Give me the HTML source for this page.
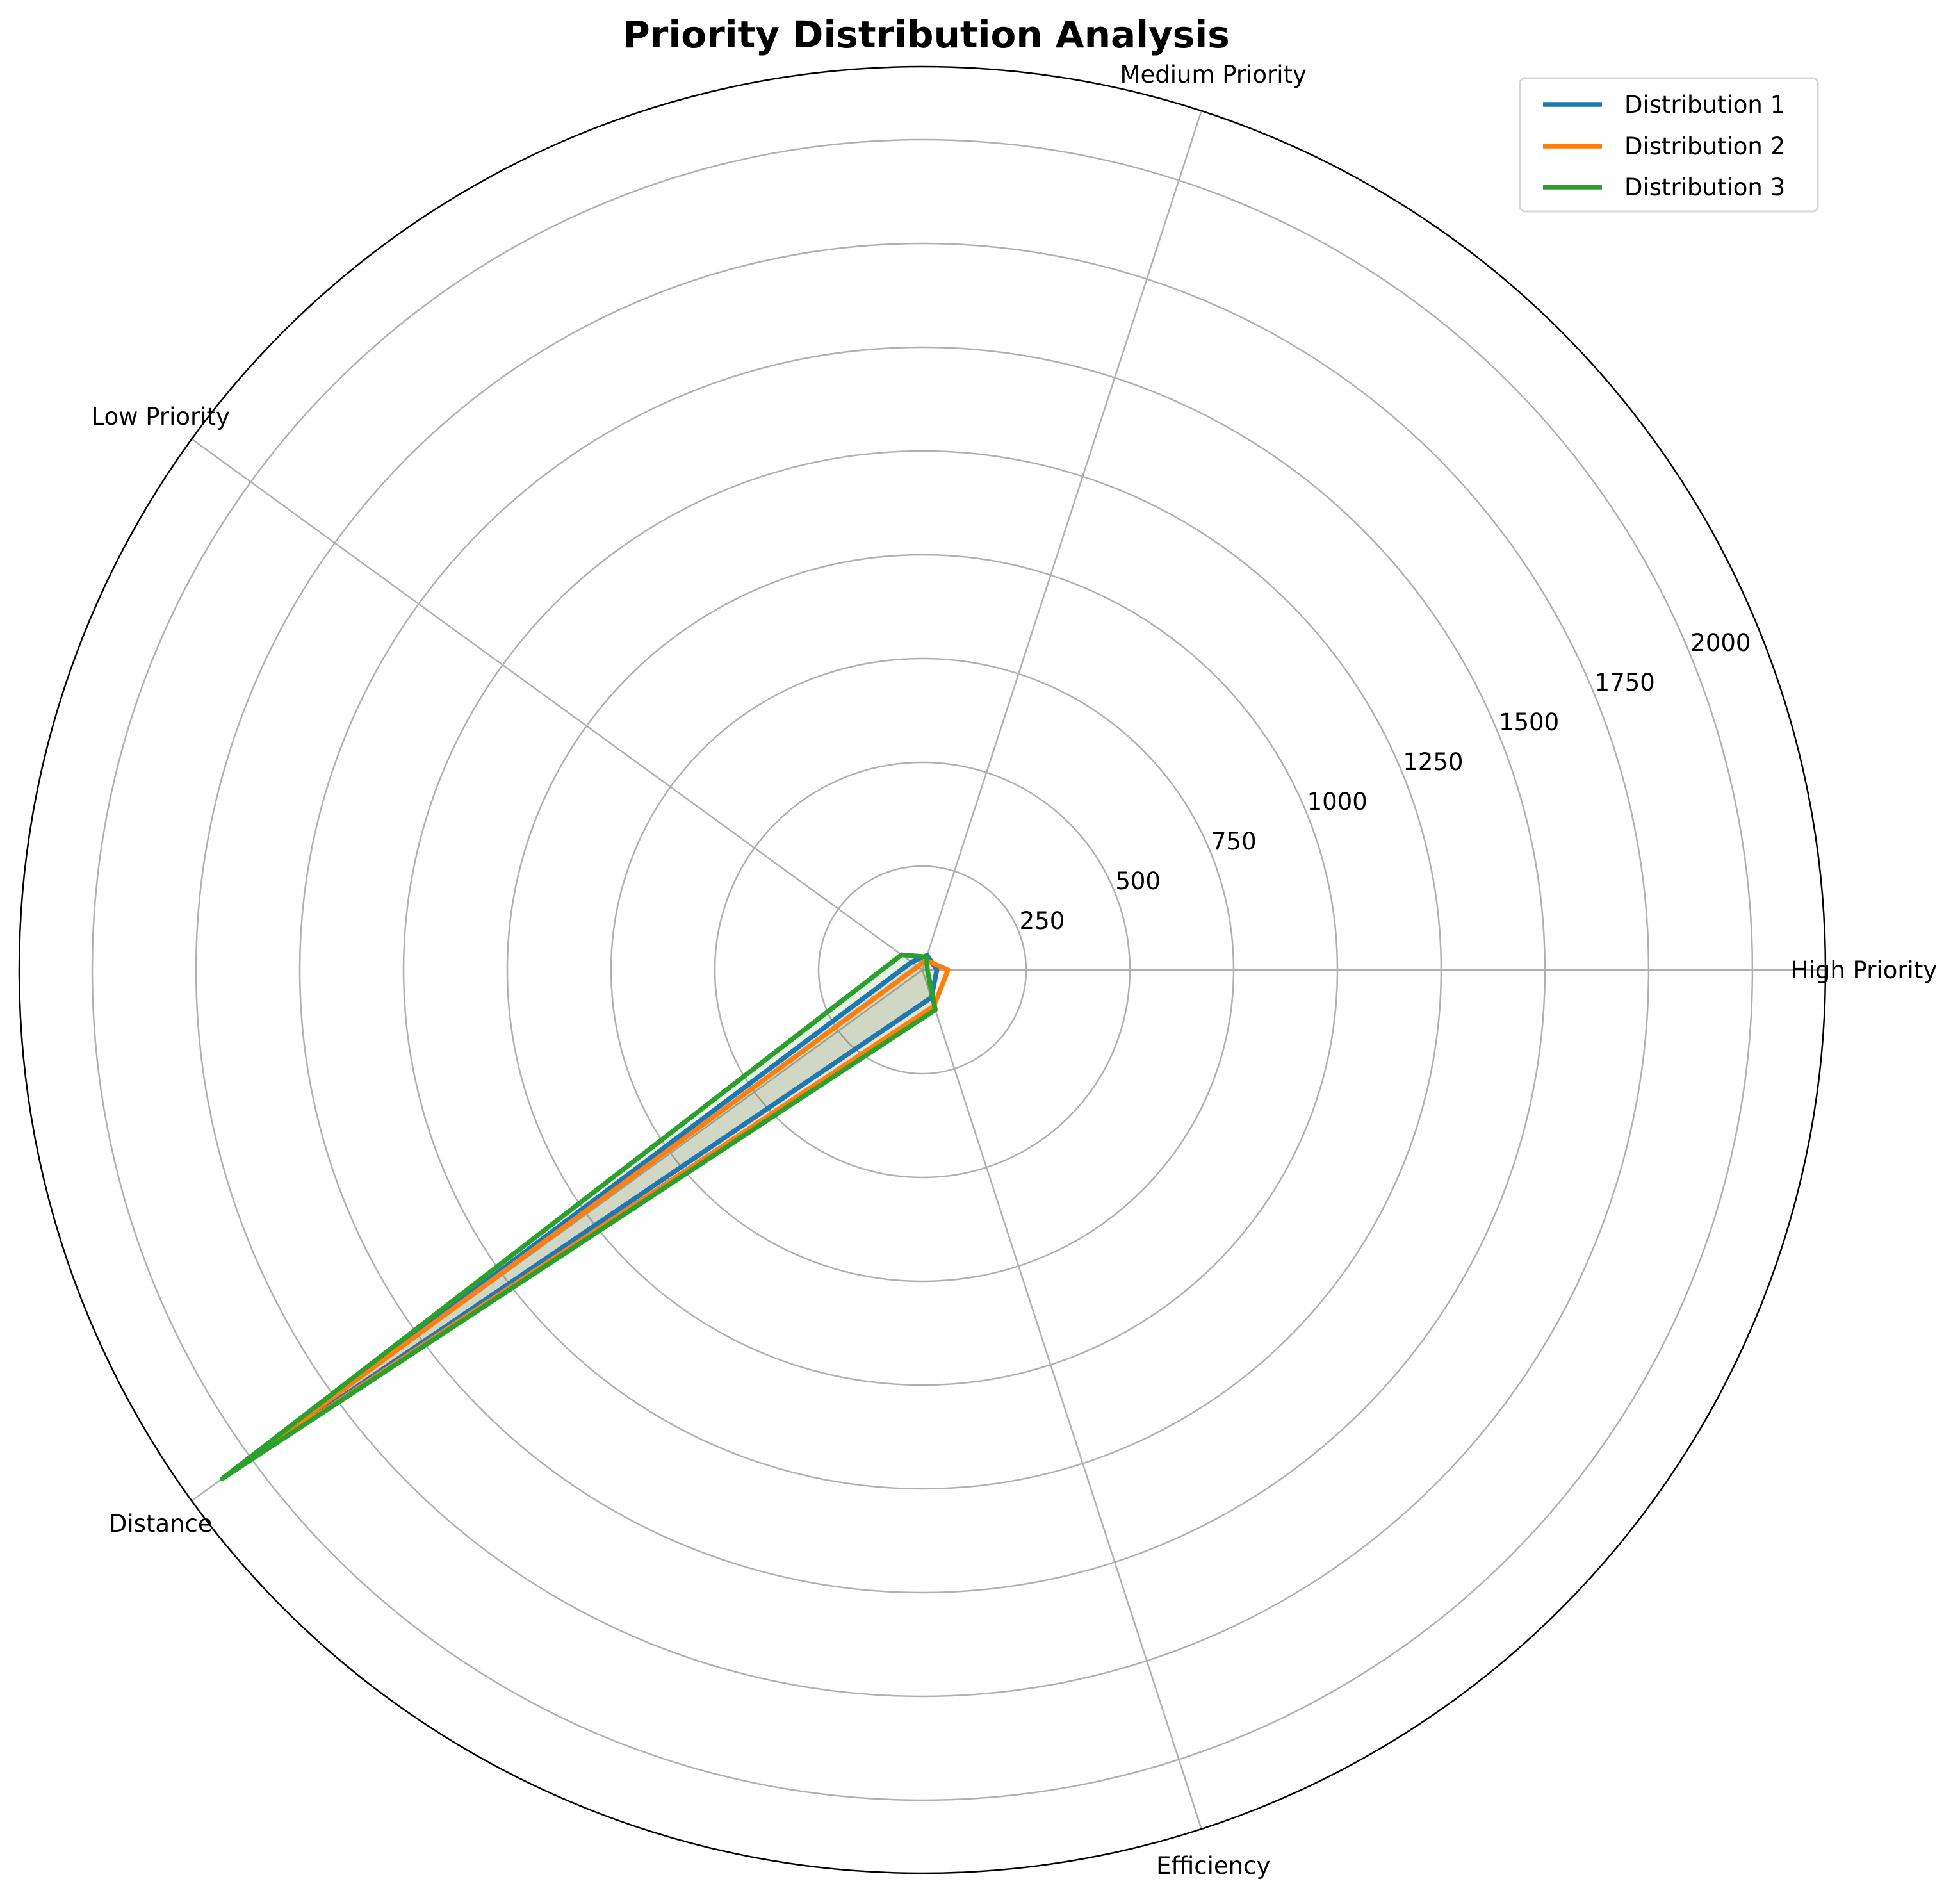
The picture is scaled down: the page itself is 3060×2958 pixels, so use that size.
<!DOCTYPE html>
<html><head><meta charset="utf-8"><title>Priority Distribution Analysis</title>
<style>
html,body{margin:0;padding:0;background:#fff;}
svg{display:block;font-family:"DejaVu Sans","Liberation Sans",sans-serif;}
</style></head>
<body>
<svg id="chart" width="3060" height="2958" viewBox="0 0 3060 2958" xmlns="http://www.w3.org/2000/svg">
<rect width="3060" height="2958" fill="#fff"/>
<text x="1446" y="74" text-anchor="middle" font-size="58" font-weight="bold">Priority Distribution Analysis</text>
<g id="grid"></g>
<g id="series"></g>
<g id="labels"></g>
<g>
<rect x="2373" y="122" width="465" height="208" rx="8" fill="#fff" stroke="#d6d6d6" stroke-width="3"/>
<g id="legend"></g>
</g>
</svg>
<script>
const categories = ["High Priority","Medium Priority","Low Priority","Distance","Efficiency"];
const seriesNames = ["Distribution 1","Distribution 2","Distribution 3"];
const dist1 = [35, 37, 32, 2040, 70];
const dist2 = [62, 25, 14, 2060, 91];
const dist3 = [12, 33, 62, 2085, 101];
const ticks = [250,500,750,1000,1250,1500,1750,2000];
const colors = ["#1f77b4","#ff7f0e","#2ca02c"];
const allSeries = [dist1, dist2, dist3];

const NS = "http://www.w3.org/2000/svg";
const cx = 1440, cy = 1514, R = 1410, rmax = 2176;
function rs(v){ return v / rmax * R; }
function ang(i){ return i * 2 * Math.PI / categories.length; }
function pt(i, v){ const a = ang(i), r = rs(v); return [cx + r*Math.cos(a), cy - r*Math.sin(a)]; }
function mk(tag, attrs, parent){ const e = document.createElementNS(NS, tag); for (const k in attrs) e.setAttribute(k, attrs[k]); parent.appendChild(e); return e; }

const grid = document.getElementById("grid");
ticks.forEach(t => {
  const c = mk("circle", {cx:cx, cy:cy, r:rs(t), fill:"none", stroke:"#b0b0b0", "stroke-width":2.5}, grid);
  
  
});
categories.forEach((c, i) => {
  const [x, y] = pt(i, rmax);
  const l = mk("line", {x1:cx, y1:cy, x2:x, y2:y, stroke:"#b0b0b0", "stroke-width":2.5}, grid);
  
  
});
const outer = mk("circle", {cx:cx, cy:cy, r:R, fill:"none", stroke:"#000", "stroke-width":2.5}, grid);



const labels = document.getElementById("labels");
const ra = 22.5 * Math.PI / 180;
ticks.forEach(t => {
  const r = rs(t);
  const tx = mk("text", {x: cx + r*Math.cos(ra) + 2, y: cy - r*Math.sin(ra) - 2, "font-size":37}, labels);
  tx.textContent = t;
  
  
});
categories.forEach((c, i) => {
  const a = ang(i);
  const r = 1470;
  const x = cx + r*Math.cos(a), y = cy - r*Math.sin(a);
  const tx = mk("text", {x:x, y:y + 13, "font-size":37, "text-anchor":"middle"}, labels);
  tx.textContent = c;
  
  
});

const sg = document.getElementById("series");
allSeries.forEach((vals, s) => {
  const pts = vals.map((v, i) => pt(i, v).join(",")).join(" ");
  const f = mk("polygon", {points:pts, fill:colors[s], "fill-opacity":0.12, stroke:"none"}, sg);
  
  
});
allSeries.forEach((vals, s) => {
  const pts = vals.map((v, i) => pt(i, v).join(",")).join(" ");
  const p = mk("polygon", {points:pts, fill:"none", stroke:colors[s], "stroke-width":7.5, "stroke-linejoin":"round"}, sg);
  
  
});

const lg = document.getElementById("legend");
const rowY = [163, 228, 292];
seriesNames.forEach((n, s) => {
  const g = mk("g", {}, lg);
  
  
  mk("line", {x1:2409, y1:rowY[s], x2:2501, y2:rowY[s], stroke:colors[s], "stroke-width":7.5}, g);
  const t = mk("text", {x:2536, y:rowY[s] + 13, "font-size":37}, g);
  t.textContent = n;
});
</script>
</body></html>
